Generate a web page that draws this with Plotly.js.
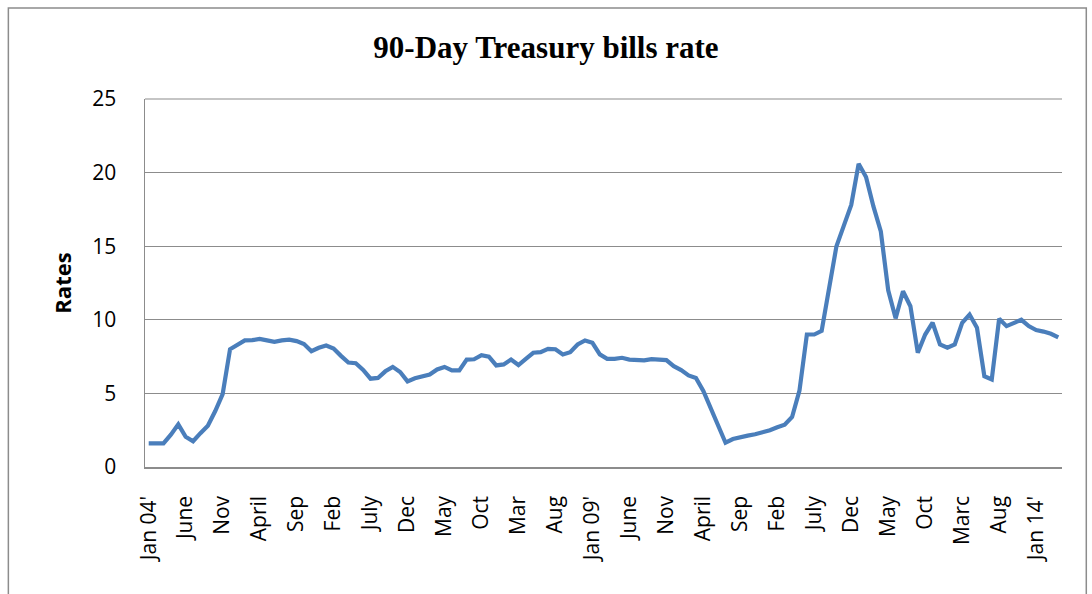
<!DOCTYPE html>
<html>
<head>
<meta charset="utf-8">
<script src="https://cdn.plot.ly/plotly-3.0.1.min.js"></script>
<style>
html,body{margin:0;padding:0;background:#fff;}
#chart{width:1092px;height:594px;}
</style>
</head>
<body>
<div id="chart"></div>
<script>
// Monthly categories Jan 2004 .. Apr 2014 (124 months)
const monthNames = ["Jan","Feb","Mar","Apr","May","Jun","Jul","Aug","Sep","Oct","Nov","Dec"];
const years = [2004,2005,2006,2007,2008,2009,2010,2011,2012,2013,2014];
const categories = [];
years.forEach(y => monthNames.forEach((m, i) => {
  if (y < 2014 || i < 4) categories.push(m + " " + y);
}));

// 90-day T-bill rate
const rates = [
  1.6, 1.6, 1.6, 2.2, 2.9, 2.05, 1.75, 2.3, 2.8, 3.8, 4.95, 8.0,
  8.3, 8.6, 8.62, 8.7, 8.6, 8.5, 8.6, 8.65, 8.55, 8.35, 7.87, 8.1,
  8.25, 8.05, 7.55, 7.1, 7.05, 6.6, 6.0, 6.05, 6.5, 6.8, 6.45, 5.82,
  6.03, 6.17, 6.28, 6.63, 6.8, 6.56, 6.56, 7.3, 7.32, 7.6, 7.5, 6.9,
  6.97, 7.3, 6.93, 7.35, 7.76, 7.8, 8.03, 8.0, 7.65, 7.8, 8.32, 8.6,
  8.44, 7.65, 7.35, 7.35, 7.42, 7.3, 7.24, 7.24, 7.33, 7.28, 7.26, 6.85,
  6.58, 6.22, 6.05, 5.16, 4.0, 2.85, 1.65, 1.9, 2.05, 2.13, 2.22, 2.33,
  2.5, 2.7, 2.87, 3.4, 5.2, 9.0, 9.0, 9.25, 12.0, 15.0, 16.4, 17.8,
  20.6, 19.7, 17.7, 16.0, 12.0, 10.1, 11.94, 10.92, 7.76, 9.0, 9.8, 8.32,
  8.1, 8.32, 9.8, 10.36, 9.46, 6.17, 5.95, 10.07, 9.57, 9.8, 10.0, 9.57,
  9.3, 9.2, 9.05, 8.8
];

// Tick labels shown every 5th month
const tickLabels = ["Jan 04'","June","Nov","April","Sep","Feb","July","Dec","May","Oct","Mar","Aug",
  "Jan 09'","June","Nov","April","Sep","Feb","July","Dec","May","Oct","Marc","Aug","Jan 14'"];
const tickVals = tickLabels.map((_, k) => categories[k * 5]);

const yTicks = [0, 5, 10, 15, 20, 25];

const trace = {
  x: categories,
  y: rates,
  type: 'scatter',
  mode: 'lines',
  line: {color: '#4A7EBB', width: 4.2},
  hoverinfo: 'x+y'
};

const axisFont = {family: 'Open Sans, Segoe UI, sans-serif', size: 21, color: '#000'};

const layout = {
  width: 1092,
  height: 594,
  margin: {l: 145, r: 30, t: 99, b: 127},
  paper_bgcolor: '#fff',
  plot_bgcolor: '#fff',
  showlegend: false,
  title: {
    text: '<b>90-Day Treasury bills rate</b>',
    font: {family: 'Liberation Serif, Times New Roman, serif', size: 31, color: '#000'},
    x: 0.5, xref: 'container', xanchor: 'center',
    y: 0.92, yref: 'container', yanchor: 'middle'
  },
  xaxis: {
    type: 'category',
    tickmode: 'array',
    tickvals: tickVals,
    ticktext: tickLabels,
    tickangle: -90,
    tickfont: axisFont,
    ticks: 'outside',
    ticklen: 19,
    tickcolor: 'rgba(0,0,0,0)',
    showgrid: false,
    showline: true,
    linecolor: '#8c8c8c',
    linewidth: 1.5,
    zeroline: false,
    range: [-0.5, categories.length - 0.5],
    fixedrange: true
  },
  yaxis: {
    range: [0, 25],
    tickmode: 'array',
    tickvals: yTicks,
    ticktext: yTicks.map(String),
    tickfont: axisFont,
    ticks: 'outside',
    ticklen: 23,
    tickcolor: 'rgba(0,0,0,0)',
    showgrid: true,
    gridcolor: '#8c8c8c',
    gridwidth: 1.2,
    showline: true,
    linecolor: '#8c8c8c',
    linewidth: 1.5,
    zeroline: false,
    title: {
      text: '<b>Rates</b>',
      font: {family: 'Open Sans, Segoe UI, sans-serif', size: 22, color: '#000'},
      standoff: 14
    },
    fixedrange: true
  },
  shapes: [{
    type: 'rect', xref: 'paper', yref: 'paper',
    x0: -0.149, x1: 1.0265, y0: -0.4, y1: 1.2473,
    line: {color: '#8c8c8c', width: 1.5},
    fillcolor: 'rgba(0,0,0,0)',
    layer: 'below'
  }, {
    type: 'line', xref: 'paper', yref: 'paper',
    x0: 0, x1: 1, y0: 1, y1: 1,
    line: {color: '#8c8c8c', width: 1.2}
  }]
};

Plotly.newPlot('chart', [trace], layout, {displayModeBar: false, staticPlot: true});
</script>
</body>
</html>
